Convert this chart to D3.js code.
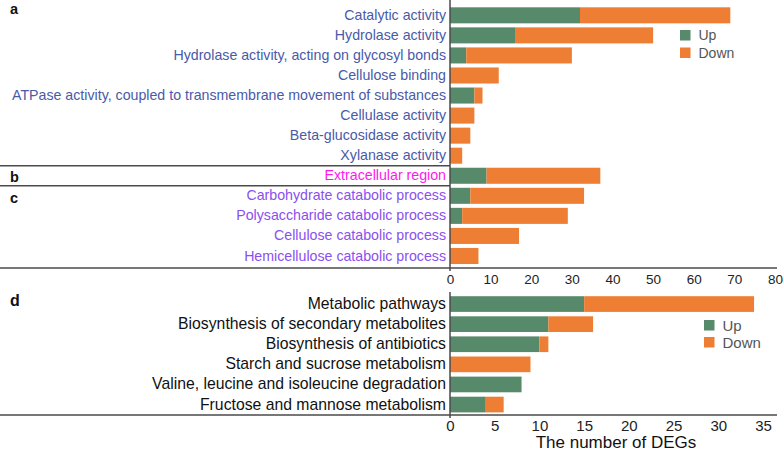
<!DOCTYPE html>
<html><head><meta charset="utf-8">
<script src="https://cdn.jsdelivr.net/npm/d3@7"></script>
<style>body{margin:0;background:#fff}svg{display:block;font-family:"Liberation Sans",Arial,sans-serif}</style>
</head><body><svg id="c" width="784" height="455"></svg>
<script>
// ---- data ----
const goCategories = ["Catalytic activity","Hydrolase activity","Hydrolase activity, acting on glycosyl bonds","Cellulose binding","ATPase activity, coupled to transmembrane movement of substances","Cellulase activity","Beta-glucosidase activity","Xylanase activity","Extracellular region","Carbohydrate catabolic process","Polysaccharide catabolic process","Cellulose catabolic process","Hemicellulose catabolic process"];
const goGroup = ["a","a","a","a","a","a","a","a","b","c","c","c","c"];
const goUp   = [32,16,4,0,6,0,0,0,9,5,3,0,0];
const goDown = [37,34,26,12,2,6,5,3,28,28,26,17,7];
const goTicks = [0,10,20,30,40,50,60,70,80];

const keggCategories = ["Metabolic pathways","Biosynthesis of secondary metabolites","Biosynthesis of antibiotics","Starch and sucrose metabolism","Valine, leucine and isoleucine degradation","Fructose and mannose metabolism"];
const keggUp   = [15,11,10,0,8,4];
const keggDown = [19,5,1,9,0,2];
const keggTicks = [0,5,10,15,20,25,30,35];

const seriesNames = ["Up","Down"];
const colors = {Up:"#578a6a", Down:"#ee7e33"};
const groupColors = {a:"#4a5aa8", b:"#ff18ec", c:"#8b4ff0"};
const axisColor = "#4a4a4a";

const svg = d3.select("#c");

function panel(o){
  const g = svg.append("g");
  const x = d3.scaleLinear().domain([0,o.max]).range([450,o.xEnd]);
  const y = d3.scaleBand().domain(o.cats).range(o.yr).paddingInner(o.pad).paddingOuter(o.pad/2);
  const rows = o.cats.map((c,i)=>({c, up:o.up[i], down:o.down[i], i}));
  g.selectAll(".up").data(rows).join("rect")
    .attr("x",x(0)).attr("y",d=>y(d.c)).attr("height",y.bandwidth())
    .attr("width",d=>x(d.up)-x(0)).attr("fill",colors.Up);
  g.selectAll(".dn").data(rows).join("rect")
    .attr("x",d=>x(d.up)).attr("y",d=>y(d.c)).attr("height",y.bandwidth())
    .attr("width",d=>x(d.up+d.down)-x(d.up)).attr("fill",colors.Down);
  const ya = d3.axisLeft(y).tickSize(0).tickPadding(4);
  const yg = g.append("g").attr("transform","translate(450,0)").call(ya);
  yg.select(".domain").remove();
  yg.selectAll("text").attr("font-size",o.labelSize).attr("font-family",'"Liberation Sans",Arial,sans-serif')
    .attr("fill",(d,i)=>o.labelColor(i));
  const xa = d3.axisBottom(x).tickValues(o.ticks).tickSize(0).tickPadding(o.tickPad);
  const xg = g.append("g").attr("transform",`translate(0,${o.axisY})`).call(xa);
  xg.select(".domain").remove();
  xg.selectAll("text").attr("font-size",o.tickSize).attr("fill","#222").attr("font-family",'"Liberation Sans",Arial,sans-serif');
  g.append("line").attr("x1",0).attr("x2",777).attr("y1",o.axisY).attr("y2",o.axisY)
    .attr("stroke",axisColor).attr("stroke-width",1.5);
  g.append("line").attr("x1",450).attr("x2",450).attr("y1",o.vTop).attr("y2",o.axisY+3)
    .attr("stroke",axisColor).attr("stroke-width",1.5);
  const lg = g.append("g");
  seriesNames.forEach((s,i)=>{
    lg.append("rect").attr("x",o.leg[0]).attr("y",o.leg[1]+i*o.leg[3]).attr("width",o.leg[2]).attr("height",o.leg[2]).attr("fill",colors[s]);
    lg.append("text").attr("x",o.leg[0]+o.leg[2]+8).attr("y",o.leg[1]+i*o.leg[3]+o.leg[2]/2).attr("dy","0.36em")
      .attr("font-size",o.legSize).attr("fill","#555").text(s);
  });
  return {x,y,g};
}

const goPanel = panel({cats:goCategories, up:goUp, down:goDown, max:80, xEnd:775, yr:[5.3,266], pad:0.2,
  ticks:goTicks, axisY:268, vTop:0, labelSize:"14.2px", tickSize:"13.5px", tickPad:6,
  labelColor:i=>groupColors[goGroup[i]], leg:[680,30,10.5,17.5], legSize:"14px"});
[8,9].forEach(i=>{
  const yy = goPanel.y(goCategories[i]) - (goPanel.y.step()-goPanel.y.bandwidth())/2;
  svg.append("line").attr("x1",0).attr("x2",450).attr("y1",yy).attr("y2",yy).attr("stroke",axisColor).attr("stroke-width",1.5);
});
const letters = [["a",8.5],["b",177],["c",197.5]];
letters.forEach(([t,yc])=>{
  svg.append("text").attr("x",10).attr("y",yc).attr("dy","0.36em")
    .attr("font-size","14.5px").attr("font-weight","bold").attr("fill","#111").text(t);
});

const keggPanel = panel({cats:keggCategories, up:keggUp, down:keggDown, max:35, xEnd:763, yr:[294,414.6], pad:0.22,
  ticks:keggTicks, axisY:415, vTop:292, labelSize:"15.75px", tickSize:"15px", tickPad:5,
  labelColor:()=>"#111", leg:[704,320,10.5,17], legSize:"15px"});
svg.append("text").attr("x",10).attr("y",300).attr("dy","0.36em").attr("font-size","16px").attr("font-weight","bold").attr("fill","#111").text("d");
svg.append("text").attr("x",616).attr("y",442).attr("dy","0.36em").attr("text-anchor","middle")
  .attr("font-size","17px").attr("fill","#111").text("The number of DEGs");
</script></body></html>
